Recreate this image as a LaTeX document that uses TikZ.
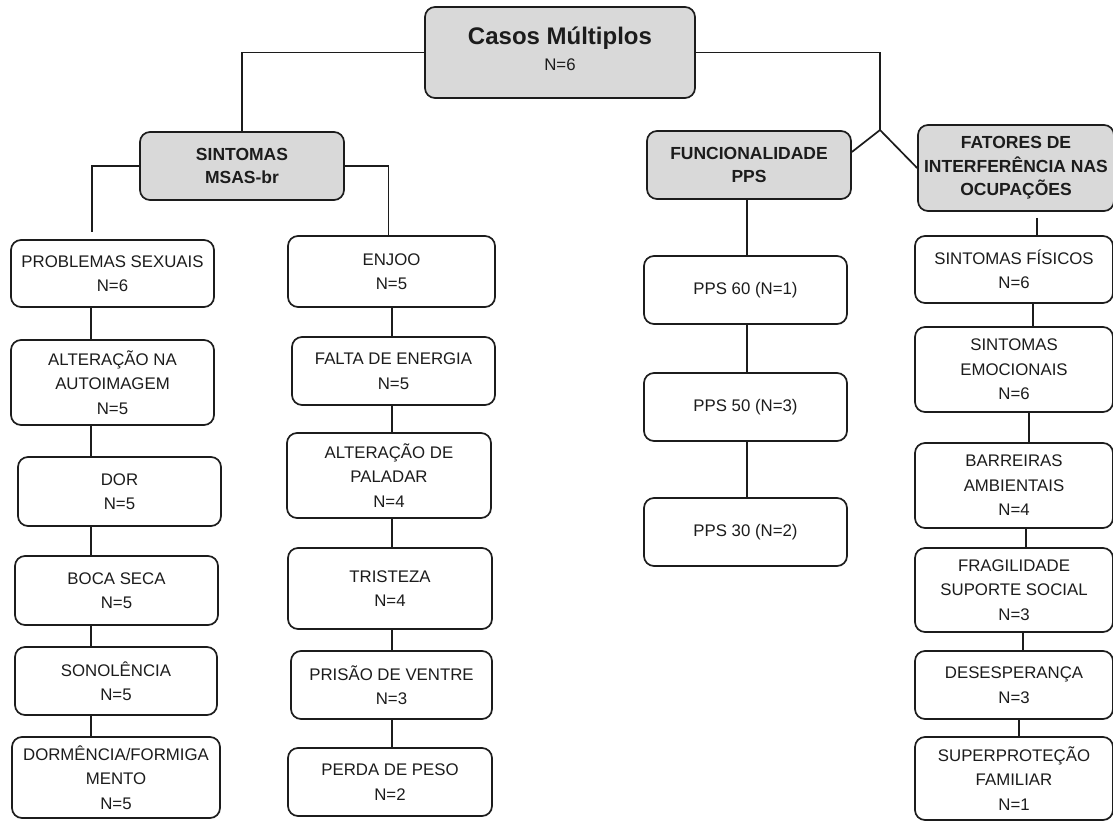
\documentclass[tikz,border=0pt]{standalone}
\usepackage{fontspec}
\setmainfont{Liberation Sans}
\usepackage{xcolor}

\definecolor{boxgray}{HTML}{D9D9D9}
\definecolor{boxline}{HTML}{1C1C1C}

\begin{document}
\begin{tikzpicture}[x=1pt,y=-1pt,
	item/.style={draw=boxline, line width=1.7pt, rounded corners=10pt, align=center, inner sep=0pt, text=boxline, font=\fontsize{16.8}{24.5}\selectfont},
	head/.style={item, fill=boxgray, font=\fontsize{17.5}{23.5}\selectfont\bfseries},
	link/.style={draw=boxline, line width=1.7pt}]
		\path[use as bounding box, fill=white] (0,0) rectangle (1113,821);

		\node[head, minimum width=270, minimum height=91, font=\fontsize{16.8}{26}\selectfont] (casos) at (560,52.5) {{\fontsize{24}{28}\selectfont\bfseries Casos Múltiplos}\\N=6\rule[-7pt]{0pt}{7pt}};
		\node[head, minimum width=204, minimum height=68] (sint) at (242,166) {SINTOMAS\\MSAS-br};
		\node[head, minimum width=204, minimum height=68] (func) at (749,165) {FUNCIONALIDADE\\PPS};
		\node[head, minimum width=196, minimum height=86] (fat) at (1016,168) {FATORES DE\\INTERFERÊNCIA NAS\\OCUPAÇÕES};

		\node[item, minimum width=203, minimum height=67] (sexuais) at (112.5,273.5) {PROBLEMAS SEXUAIS\\N=6};
		\node[item, minimum width=203, minimum height=85] (autoimagem) at (112.5,382.5) {ALTERAÇÃO NA\\AUTOIMAGEM\\N=5};
		\node[item, minimum width=203, minimum height=69] (dor) at (119.5,491.5) {DOR\\N=5};
		\node[item, minimum width=203, minimum height=69] (boca) at (116.5,590.5) {BOCA SECA\\N=5};
		\node[item, minimum width=202, minimum height=68] (sono) at (116,681) {SONOLÊNCIA\\N=5};
		\node[item, minimum width=208, minimum height=81] (dormencia) at (116,777.5) {DORMÊNCIA/FORMIGA\\MENTO\\N=5};

		\node[item, minimum width=207, minimum height=71] (enjoo) at (391.5,271.5) {ENJOO\\N=5};
		\node[item, minimum width=203, minimum height=68] (energia) at (393.5,371) {FALTA DE ENERGIA\\N=5};
		\node[item, minimum width=204, minimum height=85] (paladar) at (389,475.5) {ALTERAÇÃO DE\\PALADAR\\N=4};
		\node[item, minimum width=204, minimum height=81] (tristeza) at (390,588.5) {TRISTEZA\\N=4};
		\node[item, minimum width=201, minimum height=68] (ventre) at (391.5,685) {PRISÃO DE VENTRE\\N=3};
		\node[item, minimum width=204, minimum height=68] (peso) at (390,782) {PERDA DE PESO\\N=2};

		\node[item, minimum width=203, minimum height=68] (pps60) at (745.5,290) {PPS 60 (N=1)};
		\node[item, minimum width=203, minimum height=68] (pps50) at (745.5,407) {PPS 50 (N=3)};
		\node[item, minimum width=203, minimum height=68] (pps30) at (745.5,532) {PPS 30 (N=2)};

		\node[item, minimum width=198, minimum height=67] (fisicos) at (1014,269.5) {SINTOMAS FÍSICOS\\N=6};
		\node[item, minimum width=198, minimum height=85] (emocionais) at (1014,369.5) {SINTOMAS\\EMOCIONAIS\\N=6};
		\node[item, minimum width=198, minimum height=85] (barreiras) at (1014,485.5) {BARREIRAS\\AMBIENTAIS\\N=4};
		\node[item, minimum width=198, minimum height=84] (fragilidade) at (1014,590) {FRAGILIDADE\\SUPORTE SOCIAL\\N=3};
		\node[item, minimum width=198, minimum height=68] (desesperanca) at (1014,685) {DESESPERANÇA\\N=3};
		\node[item, minimum width=198, minimum height=83] (superprotecao) at (1014,778.5) {SUPERPROTEÇÃO\\FAMILIAR\\N=1};

		\coordinate (split) at (880,130);
		\coordinate (lx) at (91,0);
		\coordinate (mx) at (392,0);
		\coordinate (px) at (747,0);

		\draw[link] (casos.west) -| (sint.north);
		\draw[link] (casos.east) -| (split);
		\draw[link] (split) -- ([yshift=13pt]func.east);
		\draw[link] (split) -- (fat.west);
		\draw[link, shorten >=7pt] (sint.west) -| ([xshift=-20.5pt]sexuais.north);
		\draw[link] (sint.east) -| ([xshift=-3pt]enjoo.north);
		\draw[link, shorten <=6pt] ([xshift=21pt]fat.south) -- ([xshift=23pt]fisicos.north);

		\foreach \a/\b in {sexuais/autoimagem, autoimagem/dor, dor/boca, boca/sono, sono/dormencia}
			\draw[link] (\a.south -| lx) -- (\b.north -| lx);
		\foreach \a/\b in {enjoo/energia, energia/paladar, paladar/tristeza, tristeza/ventre, ventre/peso}
			\draw[link] (\a.south -| mx) -- (\b.north -| mx);
		\foreach \a/\b in {func/pps60, pps60/pps50, pps50/pps30}
			\draw[link] (\a.south -| px) -- (\b.north -| px);
		\foreach \a/\b/\dx in {fisicos/emocionais/19, emocionais/barreiras/15, barreiras/fragilidade/12, fragilidade/desesperanca/9, desesperanca/superprotecao/5}
			\draw[link] ([xshift=\dx pt]\a.south) -- ([xshift=\dx pt]\b.north);
\end{tikzpicture}
\end{document}
